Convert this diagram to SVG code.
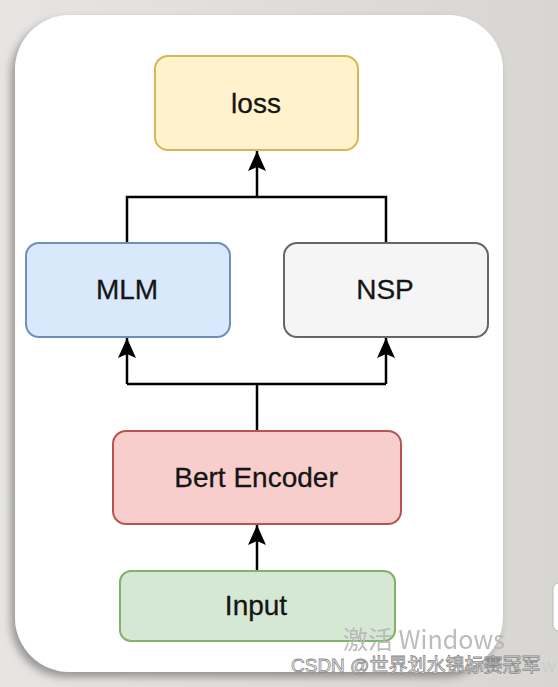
<svg xmlns="http://www.w3.org/2000/svg" width="558" height="687" viewBox="0 0 558 687">
<defs>
<linearGradient id="bg" x1="0" y1="0" x2="1" y2="0">
<stop offset="0" stop-color="#e6e5e3"/>
<stop offset="1" stop-color="#d8d6d2"/>
</linearGradient>
<filter id="sh" x="-10%" y="-10%" width="120%" height="120%">
<feGaussianBlur in="SourceAlpha" stdDeviation="4"/>
<feOffset dx="-4" dy="5"/>
<feComponentTransfer><feFuncA type="linear" slope="0.35"/></feComponentTransfer>
<feMerge><feMergeNode/><feMergeNode in="SourceGraphic"/></feMerge>
</filter>
<marker id="arr" viewBox="0 0 20 18" refX="20" refY="9" markerWidth="20" markerHeight="18" markerUnits="userSpaceOnUse" orient="auto">
<path d="M0,0 L20,9 L0,18 L4,9 Z" fill="#000"/>
</marker>
</defs>
<style>
.box{stroke-width:2}
.lbl{font-family:"Liberation Sans",Arial,sans-serif;font-size:28px;fill:#151515;stroke:#151515;stroke-width:0.3;text-anchor:middle;dominant-baseline:central}
.edge{fill:none;stroke:#000;stroke-width:2.5}
</style>
<rect width="558" height="687" fill="url(#bg)"/>
<rect x="15" y="15" width="488" height="657" rx="55" ry="55" fill="#fff" filter="url(#sh)"/>
<g id="connectors">
<path class="edge" d="M257,197 V151" marker-end="url(#arr)"/>
<path class="edge" d="M127,243 V197 H386 V243"/>
<path class="edge" d="M257,431 V384"/>
<path class="edge" d="M127,384 H386"/>
<path class="edge" d="M127,384 V338" marker-end="url(#arr)"/>
<path class="edge" d="M386,384 V338" marker-end="url(#arr)"/>
<path class="edge" d="M257,571 V525" marker-end="url(#arr)"/>
</g>
<g id="loss">
<rect class="box" x="155" y="56" width="203" height="94" rx="13" fill="#fff2cc" stroke="#d6b656"/>
<text class="lbl" x="256" y="103">loss</text>
</g>
<g id="mlm">
<rect class="box" x="26" y="243" width="204" height="94" rx="13" fill="#dae8fc" stroke="#6c8ebf"/>
<text class="lbl" x="127" y="289">MLM</text>
</g>
<g id="nsp">
<rect class="box" x="284" y="243" width="204" height="94" rx="13" fill="#f5f5f5" stroke="#666666"/>
<text class="lbl" x="385" y="289">NSP</text>
</g>
<g id="bert">
<rect class="box" x="113" y="431" width="288" height="93" rx="13" fill="#f8cecc" stroke="#b85450"/>
<text class="lbl" x="256" y="477">Bert Encoder</text>
</g>
<g id="input">
<rect class="box" x="120" y="571" width="275" height="70" rx="11" fill="#d5e8d4" stroke="#82b366"/>
<text class="lbl" x="256" y="605">Input</text>
</g>
<rect x="553" y="583" width="14" height="48" rx="6" fill="#fff" stroke="#bbb"/>
<text x="343" y="649" font-family="'Noto Sans CJK SC','Noto Sans',sans-serif" font-size="25" fill="#b5b5b5" opacity="0.9">激活 Windows</text>
<text x="291" y="672" font-family="'Liberation Sans','Noto Sans CJK SC',sans-serif" font-size="19" fill="#fff" stroke="#888" stroke-width="0.8">CSDN @世界划水锦标赛冠军</text>
<text x="542" y="672" font-family="'Liberation Sans',sans-serif" font-size="19" fill="#ccc">w</text>
</svg>
